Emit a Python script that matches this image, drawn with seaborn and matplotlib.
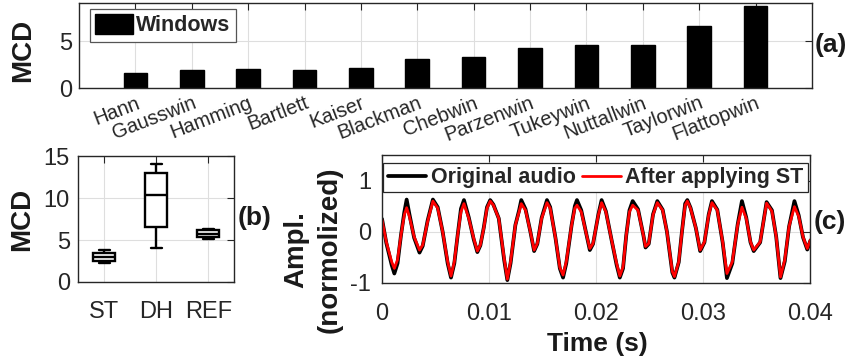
import numpy as np
import pandas as pd
import matplotlib
matplotlib.use("Agg")
import matplotlib.pyplot as plt
import matplotlib.transforms as mtransforms
import seaborn as sns

# ---------------- data ----------------
windows = ["Hann", "Gausswin", "Hamming", "Bartlett", "Kaiser", "Blackman",
           "Chebwin", "Parzenwin", "Tukeywin", "Nuttallwin", "Taylorwin", "Flattopwin"]
window_mcd = [1.65, 1.91, 1.98, 1.95, 2.16, 3.08, 3.27, 4.24, 4.58, 4.58, 6.65, 8.74]

methods = ["ST", "DH", "REF"]
mcd_st = [2.30, 2.46, 2.97, 3.49, 3.80]
mcd_dh = [4.10, 6.49, 10.40, 12.92, 14.03]
mcd_ref = [5.13, 5.35, 5.72, 6.15, 6.37]

time_ms = [0.0, 0.4, 0.9, 1.15, 1.45, 1.77, 2.08, 2.3, 2.55, 3.0, 3.5, 3.8, 4.26, 4.75,
           5.2, 5.66, 6.13, 6.44, 6.75, 7.06, 7.37, 7.65, 8.1, 8.56, 8.9, 9.18, 9.5,
           9.8, 10.1, 10.4, 10.9, 11.4, 11.7, 12.0, 12.45, 12.8, 13.0, 13.4, 13.85,
           14.2, 14.5, 14.9, 15.4, 15.7, 16.2, 16.6, 16.9, 17.2, 17.7, 18.0, 18.2,
           18.6, 19.1, 19.4, 19.7, 20.2, 20.5, 20.9, 21.4, 21.9, 22.2, 22.5, 22.8,
           23.1, 23.4, 23.9, 24.4, 24.6, 24.9, 25.3, 25.7, 26.2, 26.6, 27.1, 27.3,
           27.7, 28.0, 28.3, 28.5, 28.8, 29.3, 29.7, 30.1, 30.5, 30.8, 31.3, 31.8,
           32.2, 32.7, 33.2, 33.6, 34.0, 34.4, 34.7, 35.3, 35.9, 36.4, 36.8, 37.2,
           37.6, 38.0, 38.5, 38.9, 39.3, 39.7, 40.0]
amp_st = [0.23, -0.20, -0.59, -0.72, -0.55, -0.07, 0.33, 0.47, 0.30, -0.10, -0.36, -0.26,
          0.20, 0.60, 0.46, 0.0, -0.59, -0.87, -0.59, -0.07, 0.39, 0.55, 0.26, -0.13,
          -0.38, -0.26, 0.07, 0.46, 0.60, 0.52, 0.26, -0.52, -0.93, -0.59, 0.13, 0.39,
          0.55, 0.42, 0.0, -0.36, -0.23, 0.26, 0.57, 0.46, -0.13, -0.70, -0.85, -0.59,
          0.13, 0.46, 0.52, 0.39, -0.07, -0.33, -0.23, 0.33, 0.57, 0.39, -0.13, -0.62,
          -0.87, -0.69, -0.07, 0.39, 0.52, 0.42, -0.07, -0.29, -0.23, 0.33, 0.57, 0.42,
          0.0, -0.78, -0.88, -0.59, 0.0, 0.52, 0.60, 0.46, 0.07, -0.36, -0.20, 0.33,
          0.57, 0.42, -0.20, -0.82, -0.59, 0.13, 0.48, 0.26, -0.20, -0.36, -0.20, 0.56,
          0.40, -0.10, -0.89, -0.55, 0.10, 0.49, 0.30, -0.10, -0.33, -0.16]
amp_orig = [0.25, -0.22, -0.65, -0.82, -0.62, -0.07, 0.38, 0.63, 0.35, -0.12, -0.41, -0.28,
            0.22, 0.63, 0.48, 0.0, -0.62, -0.90, -0.62, -0.07, 0.45, 0.62, 0.28, -0.15,
            -0.40, -0.27, 0.08, 0.48, 0.62, 0.53, 0.26, -0.55, -0.95, -0.62, 0.13, 0.42,
            0.62, 0.44, 0.0, -0.38, -0.24, 0.27, 0.62, 0.48, -0.13, -0.72, -0.90, -0.62,
            0.13, 0.50, 0.62, 0.42, -0.07, -0.36, -0.24, 0.34, 0.62, 0.40, -0.13, -0.65,
            -0.90, -0.72, -0.07, 0.42, 0.60, 0.44, -0.07, -0.31, -0.24, 0.34, 0.60, 0.43,
            0.0, -0.80, -0.90, -0.60, 0.0, 0.55, 0.62, 0.47, 0.07, -0.38, -0.21, 0.34,
            0.60, 0.43, -0.21, -0.91, -0.62, 0.14, 0.60, 0.28, -0.21, -0.38, -0.21, 0.58,
            0.42, -0.10, -0.91, -0.58, 0.10, 0.60, 0.32, -0.11, -0.35, -0.17]

time_ticks = [0, 0.01, 0.02, 0.03, 0.04]
time_tick_labels = ["0", "0.01", "0.02", "0.03", "0.04"]
amp_ticks = [-1, 0, 1]
amp_tick_labels = ["-1", "0", "1"]

# ---------------- style ----------------
sns.set_style("white")
plt.rcParams["font.family"] = ["Liberation Sans", "DejaVu Sans"]
plt.rcParams["axes.unicode_minus"] = False

DARK = "#262626"


def style_axes(ax):
    for s in ax.spines.values():
        s.set_color(DARK)
        s.set_linewidth(1.0)
        s.set_visible(True)
    ax.tick_params(direction="in", top=True, right=True, length=5, width=0.8,
                   colors=DARK, labelsize=17)
    ax.grid(True, color="#dedede", linewidth=0.8)
    ax.set_axisbelow(True)


fig = plt.figure(figsize=(8.51, 3.62), dpi=100)
ax_a = fig.add_axes([0.0928, 0.7569, 0.8613, 0.2348])
ax_b = fig.add_axes([0.0920, 0.2210, 0.1833, 0.3480])
ax_c = fig.add_axes([0.4489, 0.2191, 0.5035, 0.3522])

# ---------------- (a) bars ----------------
df_a = pd.DataFrame({"window": windows, "MCD": window_mcd})
sns.barplot(data=df_a, x="window", y="MCD", color="black", saturation=1,
            width=0.42, edgecolor="black", ax=ax_a, label="Windows")
style_axes(ax_a)
ax_a.set_xlim(-1, 12)
ax_a.set_ylim(0, 9.07)
ax_a.set_yticks([0, 5])
ax_a.set_xticks(range(len(windows)))
ax_a.set_xticklabels(windows, rotation=21, ha="right", va="top",
                     rotation_mode="anchor", fontsize=14.5)
shift = mtransforms.ScaledTranslation(4 / 100, 0, fig.dpi_scale_trans)
for lab in ax_a.get_xticklabels():
    lab.set_transform(lab.get_transform() + shift)
ax_a.tick_params(axis="x", pad=4)
ax_a.tick_params(axis="y", pad=5)
ax_a.set_xlabel("")
ax_a.set_ylabel("MCD", fontsize=20, fontweight="bold", color="#1a1a1a")
ax_a.yaxis.set_label_coords(-0.058, 0.447)
leg_a = ax_a.legend(loc="upper left", bbox_to_anchor=(0.015, 0.93), borderaxespad=0,
                    prop={"weight": "bold", "size": 15.5}, handlelength=1.75,
                    handleheight=1.0, handletextpad=0.15, borderpad=0.25,
                    fancybox=False, framealpha=1, edgecolor="#555555")
leg_a.get_frame().set_linewidth(0.9)

# ---------------- (b) boxplot ----------------
df_b = pd.DataFrame({
    "method": np.repeat(methods, 5),
    "MCD": np.concatenate([mcd_st, mcd_dh, mcd_ref]),
})
sns.boxplot(data=df_b, x="method", y="MCD", color="white", linecolor="black",
            linewidth=1.7, width=0.42, whis=(0, 100), fliersize=0, saturation=1,
            ax=ax_b)
style_axes(ax_b)
ax_b.set_xlim(-0.5, 2.5)
ax_b.set_ylim(0, 15)
ax_b.set_yticks([0, 5, 10, 15])
ax_b.tick_params(axis="x", pad=14)
ax_b.tick_params(axis="y", pad=6)
ax_b.set_xlabel("")
ax_b.set_ylabel("MCD", fontsize=20, fontweight="bold", color="#1a1a1a")
ax_b.yaxis.set_label_coords(-0.275, 0.5)

# ---------------- (c) waveform ----------------
t_s = np.array(time_ms) / 1000.0
sns.lineplot(x=t_s, y=amp_orig, color="black", linewidth=2.7, ax=ax_c,
             label="Original audio", errorbar=None)
sns.lineplot(x=t_s, y=amp_st, color="red", linewidth=2.0, ax=ax_c,
             label="After applying ST", errorbar=None)
style_axes(ax_c)
ax_c.set_xlim(0, 0.04)
ax_c.set_ylim(-1, 1.5)
ax_c.set_xticks(time_ticks)
ax_c.set_xticklabels(time_tick_labels)
ax_c.set_yticks(amp_ticks)
ax_c.set_yticklabels(amp_tick_labels)
ax_c.tick_params(axis="x", pad=14.5)
ax_c.tick_params(axis="y", pad=8)
ax_c.set_xlabel("Time (s)", fontsize=19, fontweight="bold", color="#1a1a1a")
ax_c.xaxis.set_label_coords(0.502, -0.39)
ax_c.set_ylabel("Ampl.\n(normolized)", fontsize=20, fontweight="bold",
                color="#1a1a1a", linespacing=1.4)
ax_c.yaxis.set_label_coords(-0.091, 0.256)
leg_c = ax_c.legend(loc="upper left", bbox_to_anchor=(0.003, 0.94), borderaxespad=0,
                    ncol=2, prop={"weight": "bold", "size": 15.5}, handlelength=1.8,
                    handletextpad=0.2, columnspacing=0.3, borderpad=0.2,
                    fancybox=False, framealpha=1, edgecolor=DARK)
leg_c.get_frame().set_linewidth(0.9)

# ---------------- panel tags ----------------
fig.text(815 / 851, 1 - 45 / 362, "(a)", fontsize=19, fontweight="bold",
         ha="left", va="center", color="#1a1a1a")
fig.text(238 / 851, 1 - 218 / 362, "(b)", fontsize=19, fontweight="bold",
         ha="left", va="center", color="#1a1a1a")
fig.text(814 / 851, 1 - 222 / 362, "(c)", fontsize=19, fontweight="bold",
         ha="left", va="center", color="#1a1a1a")

fig.savefig("out.png", dpi=100)
